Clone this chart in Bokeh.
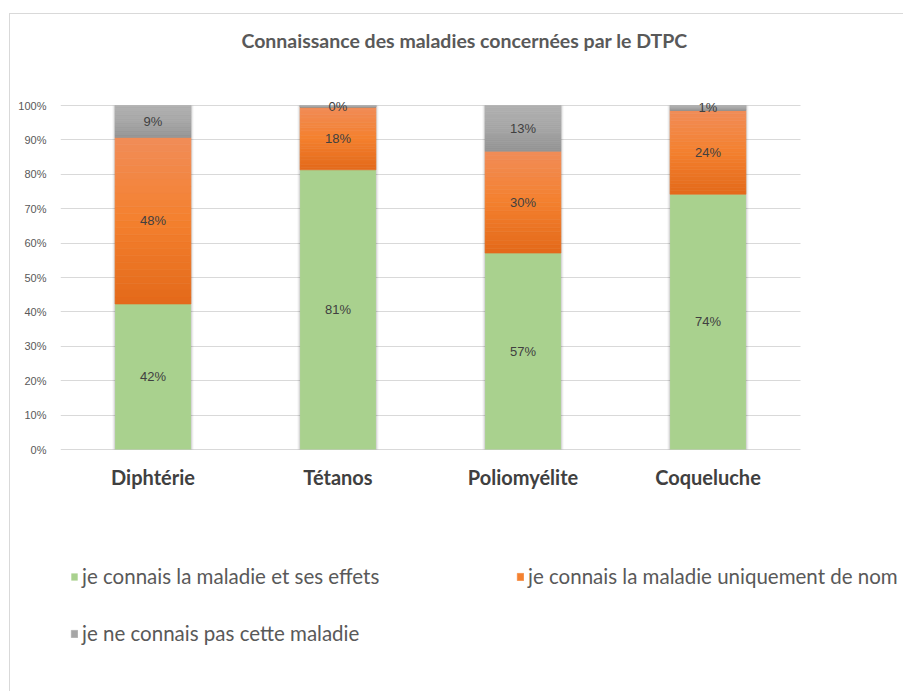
from bokeh.plotting import figure
from bokeh.models import (ColumnDataSource, Range1d, FixedTicker, LinearAxis,
                          PrintfTickFormatter, Legend, LegendItem, Label)
from bokeh.core.properties import value
from bokeh.embed import file_html
from bokeh.resources import INLINE

# ---------------- data ----------------
categories = ["Diphtérie", "Tétanos", "Poliomyélite", "Coqueluche"]
known = [42.3, 81.3, 57.1, 74.2]          # je connais la maladie et ses effets
name_only = [48.4, 18.3, 29.6, 24.4]      # je connais la maladie uniquement de nom
unknown = [9.3, 0.4, 13.3, 1.4]           # je ne connais pas cette maladie
series_names = ["je connais la maladie et ses effets",
                "je connais la maladie uniquement de nom",
                "je ne connais pas cette maladie"]
y_ticks = [0, 10, 20, 30, 40, 50, 60, 70, 80, 90, 100]
title_text = "Connaissance des maladies concernées par le DTPC"

# ---------------- styles / geometry ----------------
GREEN = "#A9D18E"
ORANGE_STOPS = ["#F18D58", "#F4802E", "#E3691A"]   # top -> bottom
GREY_STOPS = ["#B0B0B0", "#A6A6A6", "#939393"]
GRID = "#D9D9D9"
N_BANDS = 24
BAR_W = 0.41
PX_X = 185.0     # pixels per category
PX_Y = 3.44      # pixels per percent
FRAME_W = 844
ABOVE_PX = 435   # frame pixels above the 0 % line
BELOW_PX = 241   # frame pixels below the 0 % line


def hex2rgb(h):
    h = h.lstrip("#")
    return [int(h[i:i + 2], 16) for i in (0, 2, 4)]


def interp(stops, t):
    seg = t * (len(stops) - 1)
    i = min(int(seg), len(stops) - 2)
    f = seg - i
    a, b = hex2rgb(stops[i]), hex2rgb(stops[i + 1])
    c = [round(a[j] + (b[j] - a[j]) * f) for j in range(3)]
    return "#%02x%02x%02x" % tuple(c)


xpos = [i + 0.5 for i in range(len(categories))]
series = [known, name_only, unknown]
bottoms = []
acc = [0.0] * len(categories)
for s in series:
    bottoms.append(list(acc))
    acc = [acc[i] + s[i] for i in range(len(categories))]
totals = acc

p = figure(x_range=Range1d(0, FRAME_W / PX_X),
           y_range=Range1d(-BELOW_PX / PX_Y, ABOVE_PX / PX_Y),
           x_axis_type=None,
           width=894, height=678, output_backend="svg", toolbar_location=None,
           min_border_left=50, min_border_right=0, min_border_top=0,
           min_border_bottom=2, margin=(13, 0, 0, 9))
p.styles = {"border-top": "1px solid #D9D9D9", "border-left": "1px solid #D9D9D9"}
p.outline_line_color = None
p.background_fill_color = "white"
p.border_fill_color = "white"

# grid (only across the category area)
p.ygrid.ticker = FixedTicker(ticks=y_ticks)
p.ygrid.grid_line_color = GRID
p.ygrid.cross_bounds = (0, len(categories))

# shadows
p.vbar(x=xpos, bottom=0, top=totals, width=BAR_W + 5 / PX_X,
       fill_color="black", fill_alpha=0.06, line_color=None)
p.vbar(x=xpos, bottom=0, top=totals, width=BAR_W + 2.5 / PX_X,
       fill_color="black", fill_alpha=0.10, line_color=None)

renderers = []
r_green = p.vbar(x=xpos, bottom=bottoms[0],
                 top=[bottoms[0][i] + known[i] for i in range(len(categories))],
                 width=BAR_W, fill_color=GREEN, line_color=None)
renderers.append((r_green, None))

for s_idx, stops in ((1, ORANGE_STOPS), (2, GREY_STOPS)):
    xs, bs, ts, cs = [], [], [], []
    for i in range(len(categories)):
        b0 = bottoms[s_idx][i]
        h = series[s_idx][i]
        for k in range(N_BANDS):
            xs.append(xpos[i])
            bs.append(b0 + h * k / N_BANDS)
            ts.append(b0 + h * (k + 1) / N_BANDS)
            cs.append(interp(stops, 1 - (k + 0.5) / N_BANDS))
    src = ColumnDataSource(dict(x=xs, bottom=bs, top=ts, color=cs))
    r = p.vbar(x="x", bottom="bottom", top="top", width=BAR_W, source=src,
               fill_color="color", line_color="color", line_width=0.6)
    renderers.append((r, N_BANDS // 2))

# data labels
lx, ly, lt = [], [], []
for s_idx, s in enumerate(series):
    for i in range(len(categories)):
        lx.append(xpos[i])
        ly.append(bottoms[s_idx][i] + s[i] / 2)
        lt.append("%.0f%%" % s[i])
p.text(x="x", y="y", text="t", source=ColumnDataSource(dict(x=lx, y=ly, t=lt)),
       text_align="center", text_baseline="middle",
       text_font=value("Liberation Sans"), text_font_size="13px", text_color="#404040")

# y axis
p.yaxis.ticker = FixedTicker(ticks=y_ticks)
p.yaxis.formatter = PrintfTickFormatter(format="%d%%")
p.yaxis.axis_line_color = None
p.yaxis.major_tick_line_color = None
p.yaxis.minor_tick_line_color = None
p.yaxis.major_label_text_font = "Liberation Sans"
p.yaxis.major_label_text_font_size = "11px"
p.yaxis.major_label_text_color = "#595959"
p.yaxis.major_label_standoff = 8

# category axis at the 0 % line
xaxis = LinearAxis(fixed_location=0, ticker=FixedTicker(ticks=xpos),
                   major_label_overrides={xpos[i]: categories[i] for i in range(len(categories))},
                   axis_line_color=None, major_tick_line_color=None,
                   minor_tick_line_color=None,
                   major_label_text_font="Lato", major_label_text_font_style="bold",
                   major_label_text_font_size="20px", major_label_text_color="#404040",
                   major_label_standoff=9)
p.add_layout(xaxis, "below")

# title
p.add_layout(Label(x=(464 - 60) / PX_X, y=(449 - 40) / PX_Y, text=title_text,
                   text_align="center", text_baseline="middle", text_font="Lato",
                   text_font_style="bold", text_font_size="19.5px",
                   text_color="#595959"))

# legends
positions = [(10, 102), (456, 102), (10, 45)]
for (r, idx), name, loc in zip(renderers, series_names, positions):
    if idx is None:
        item = LegendItem(label=name, renderers=[r])
    else:
        item = LegendItem(label=name, renderers=[r], index=idx)
    lg = Legend(items=[item], location=loc, padding=0, margin=0, spacing=0,
                glyph_width=8, glyph_height=9, label_standoff=4,
                border_line_color=None, background_fill_alpha=0,
                label_text_font="Lato", label_text_font_size="20.5px",
                label_text_color="#595959")
    p.add_layout(lg, "center")

open("out.html", "w").write(file_html(p, INLINE))
